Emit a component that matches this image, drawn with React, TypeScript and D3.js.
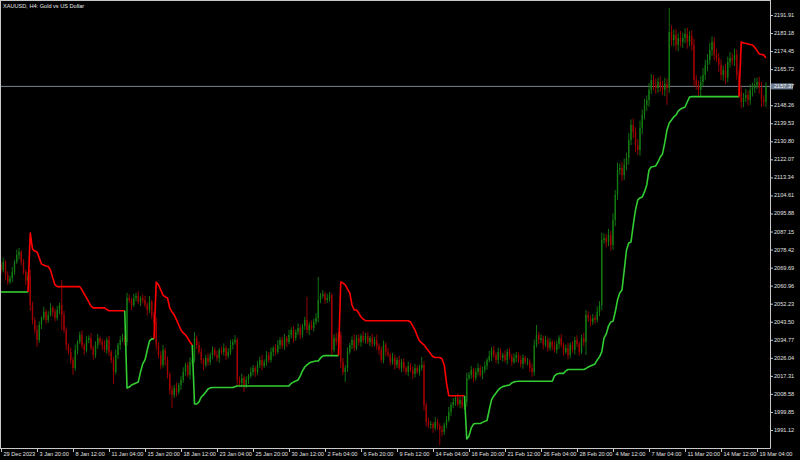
import React from 'react';
import * as d3 from 'd3';

const title = 'XAUUSD, H4:  Gold vs US Dollar';

// H4 closes, one per bar (opens follow the previous close)
const firstOpen = 2071.0;
const closes = [
  2068.5, 2072.4, 2066.1, 2062.7, 2064.6, 2067.6, 2072.4, 2075.8, 2077.3, 2072.4,
  2067.6, 2063.7, 2065.6, 2051.6, 2044.4, 2039.5, 2034.7, 2042.0, 2045.3, 2048.3,
  2044.4, 2046.8, 2050.2, 2048.3, 2045.3, 2049.2, 2051.6, 2046.8, 2039.5, 2032.3,
  2028.9, 2025.0, 2021.1, 2029.8, 2033.7, 2037.1, 2032.3, 2029.8, 2034.7, 2035.6,
  2030.8, 2027.4, 2032.3, 2035.6, 2033.7, 2032.3, 2029.8, 2034.7, 2028.9, 2025.0,
  2019.2, 2027.4, 2032.3, 2034.7, 2035.6, 2033.7, 2055.0, 2054.0, 2051.6, 2055.0,
  2056.0, 2053.1, 2055.0, 2054.0, 2051.6, 2049.2, 2053.1, 2046.8, 2043.4, 2032.3,
  2027.4, 2022.6, 2029.8, 2025.0, 2017.8, 2010.5, 2008.1, 2011.5, 2009.5, 2012.9,
  2015.3, 2019.2, 2022.6, 2017.8, 2024.0, 2025.0, 2035.6, 2032.3, 2028.9, 2025.0,
  2022.6, 2026.0, 2024.0, 2027.4, 2029.8, 2027.4, 2026.0, 2029.8, 2028.9, 2030.8,
  2026.9, 2028.9, 2032.3, 2033.7, 2034.7, 2015.3, 2013.9, 2016.3, 2012.9, 2015.3,
  2017.3, 2019.2, 2021.1, 2019.2, 2022.6, 2025.0, 2022.1, 2024.0, 2027.4, 2025.0,
  2028.9, 2030.8, 2028.9, 2032.3, 2034.7, 2031.8, 2035.6, 2033.7, 2037.1, 2039.5,
  2035.6, 2038.6, 2040.5, 2037.1, 2041.5, 2044.4, 2039.5, 2042.0, 2040.5, 2043.4,
  2045.3, 2054.0, 2056.0, 2056.9, 2054.0, 2055.0, 2056.4, 2029.8, 2035.6, 2033.7,
  2037.1, 2024.0, 2019.2, 2021.1, 2028.9, 2032.3, 2034.7, 2030.8, 2035.6, 2033.7,
  2036.6, 2034.7, 2036.6, 2033.7, 2035.6, 2032.8, 2034.7, 2031.8, 2029.8, 2025.0,
  2032.3, 2028.9, 2027.4, 2024.0, 2026.0, 2022.6, 2025.0, 2021.1, 2024.0, 2021.1,
  2019.2, 2022.1, 2020.2, 2018.2, 2021.1, 2019.2, 2021.1, 2022.6, 2003.2, 1995.0,
  1993.6, 1994.0, 1992.1, 1995.0, 1993.1, 1991.2, 1990.2, 1993.6, 1996.0, 1999.9,
  2003.2, 2004.7, 2006.6, 2003.7, 2005.6, 2002.7, 2004.7, 2016.3, 2017.8, 2020.2,
  2016.3, 2019.2, 2021.1, 2017.8, 2020.2, 2022.1, 2025.0, 2026.9, 2029.8, 2027.4,
  2025.0, 2028.9, 2026.0, 2027.4, 2025.0, 2028.9, 2026.9, 2024.0, 2026.0, 2027.4,
  2025.0, 2023.1, 2026.0, 2024.0, 2024.0, 2021.1, 2019.2, 2032.3, 2037.1, 2034.7,
  2035.6, 2032.3, 2034.7, 2030.8, 2033.7, 2031.8, 2029.8, 2032.8, 2035.6, 2032.3,
  2028.9, 2030.8, 2027.4, 2032.3, 2029.8, 2034.7, 2032.8, 2028.9, 2035.6, 2033.7,
  2046.8, 2045.3, 2043.4, 2045.3, 2044.4, 2048.3, 2051.6, 2083.1, 2084.0, 2082.1,
  2085.5, 2080.6, 2092.8, 2104.9, 2116.9, 2117.9, 2114.5, 2119.4, 2122.8, 2131.5,
  2138.7, 2135.3, 2129.0, 2126.6, 2137.3, 2143.6, 2148.4, 2150.8, 2155.7, 2160.5,
  2158.1, 2156.6, 2159.5, 2157.6, 2155.7, 2158.6, 2156.6, 2183.7, 2179.8, 2182.3,
  2177.4, 2180.8, 2178.9, 2180.8, 2182.7, 2178.9, 2181.8, 2177.4, 2160.5, 2158.1,
  2155.7, 2159.5, 2162.9, 2167.8, 2170.2, 2175.0, 2178.9, 2172.6, 2171.1, 2167.8,
  2162.9, 2165.3, 2161.5, 2169.2, 2171.1, 2170.2, 2172.6, 2162.9, 2154.7, 2149.9,
  2151.8, 2153.2, 2150.8, 2155.7, 2156.6, 2158.1, 2159.5, 2156.6, 2150.8, 2149.9,
  2157.37,
];

// wick lengths above / below the body, in dollars
const wickUp = [
  1.5, 2.1, 0.9, 1.8, 1.2, 2.4, 1.0, 2.6, 1.9, 0.8, 1.4, 1.1, 2.0, 3.2, 1.6, 1.3, 2.2, 1.7, 0.9, 2.5,
  1.2, 1.8, 2.3, 1.0, 1.5, 2.0, 1.1, 12.1, 1.9, 1.3, 0.8, 2.1, 1.4, 2.7, 1.0, 1.6, 2.2, 0.9, 1.8, 1.3,
  2.4, 1.1, 1.7, 2.0, 0.8, 1.5, 2.3, 1.2, 1.9, 0.9, 1.4, 2.6, 1.0, 1.8, 2.2, 1.3, 2.5, 1.7, 1.1, 2.0,
  1.4, 2.3, 0.9, 1.6, 2.1, 1.2, 2.8, 1.0, 1.5, 2.2, 1.3, 1.9, 2.4, 1.0, 1.7, 1.2, 2.0, 1.4, 2.5, 1.1,
  1.8, 2.2, 1.0, 1.6, 2.3, 1.4, 2.9, 1.2, 1.7, 2.0, 0.9, 1.5, 2.4, 1.1, 1.8, 1.3, 2.1, 1.0, 1.6, 2.2,
  1.2, 1.9, 2.5, 1.4, 2.3, 1.0, 1.7, 2.1, 1.3, 1.8, 0.9, 2.2, 1.5, 1.1, 2.0, 1.6, 2.4, 1.2, 1.9, 1.4,
  2.1, 1.0, 1.8, 2.3, 1.3, 1.6, 2.0, 1.1, 2.5, 1.4, 1.9, 1.2, 2.2, 1.7, 1.0, 1.5, 11.1, 1.3, 2.0, 1.6,
  2.3, 11.2, 1.4, 1.9, 1.1, 2.1, 1.5, 1.0, 1.8, 2.4, 1.2, 1.6, 2.0, 1.3, 2.2, 1.0, 1.7, 2.5, 1.4, 1.9,
  1.1, 2.3, 1.5, 1.8, 1.0, 2.0, 1.4, 2.6, 1.2, 1.7, 2.1, 1.3, 1.9, 1.0, 2.4, 1.6, 1.2, 2.0, 1.5, 1.8,
  1.1, 2.2, 1.4, 1.7, 2.0, 1.3, 1.6, 3.9, 1.8, 1.2, 2.1, 1.5, 1.0, 2.3, 1.6, 1.3, 2.0, 1.1, 1.8, 2.4,
  1.3, 1.9, 1.0, 2.2, 1.5, 1.7, 1.2, 2.6, 1.4, 2.0, 1.1, 1.8, 2.3, 1.3, 1.6, 2.1, 1.0, 2.5, 1.5, 1.9,
  1.2, 2.0, 1.6, 1.1, 2.3, 1.4, 1.8, 1.0, 2.1, 1.5, 1.3, 2.2, 1.7, 1.0, 1.9, 1.4, 2.0, 2.6, 4.8, 1.5,
  1.8, 1.2, 2.1, 1.4, 1.9, 1.0, 2.3, 1.6, 1.3, 2.0, 1.1, 1.7, 2.4, 1.2, 1.8, 1.5, 2.2, 1.0, 1.6, 2.5,
  2.4, 1.8, 1.3, 2.0, 1.5, 2.6, 1.9, 3.5, 2.2, 1.8, 2.9, 2.0, 3.1, 2.4, 3.6, 2.1, 2.8, 3.0, 2.5, 3.4,
  2.7, 3.2, 2.3, 2.9, 3.5, 2.6, 3.0, 2.2, 3.3, 2.8, 2.4, 3.1, 2.0, 2.7, 2.3, 3.0, 2.5, 11.6, 3.2, 2.6,
  2.9, 2.2, 3.4, 2.5, 2.8, 3.1, 2.3, 2.7, 3.0, 2.4, 2.1, 2.9, 3.3, 2.5, 2.8, 3.4, 2.6, 2.2, 3.0, 2.4,
  2.7, 2.1, 3.2, 2.5, 2.9, 2.3, 3.1, 2.6, 2.0, 2.8, 2.4, 3.0, 2.2, 2.7, 2.5, 3.3, 2.1, 2.6, 2.9, 2.3,
  2.0,
];
const wickDown = [
  1.8, 1.1, 2.3, 1.5, 0.9, 2.0, 1.4, 1.0, 2.2, 1.6, 1.2, 2.5, 1.0, 2.8, 2.1, 1.7, 3.4, 1.3, 2.0, 1.1,
  1.9, 1.4, 0.8, 2.2, 1.6, 1.2, 2.0, 7.3, 1.5, 2.4, 1.1, 1.8, 3.3, 1.3, 2.1, 0.9, 1.7, 2.3, 1.2, 1.6,
  1.0, 2.2, 1.4, 1.9, 1.3, 2.5, 1.1, 1.7, 2.0, 1.5, 5.8, 1.2, 1.8, 2.3, 1.0, 1.6, 1.9, 1.3, 2.4, 1.1,
  1.7, 1.0, 2.1, 1.5, 1.2, 2.6, 1.4, 1.9, 1.1, 2.3, 1.6, 2.0, 1.3, 2.7, 1.8, 2.2, 6.3, 1.5, 2.1, 1.2,
  2.4, 1.3, 1.8, 1.0, 2.2, 1.6, 1.4, 2.0, 1.1, 1.7, 2.5, 1.2, 1.9, 1.4, 2.1, 1.0, 1.6, 2.3, 1.3, 1.8,
  2.0, 1.1, 1.5, 2.2, 1.3, 2.6, 1.7, 1.2, 3.4, 1.6, 2.0, 1.0, 1.8, 2.4, 1.3, 1.5, 2.1, 1.1, 1.9, 1.4,
  1.2, 2.2, 1.6, 1.0, 2.0, 1.4, 1.8, 2.5, 1.1, 1.7, 2.3, 1.3, 1.5, 2.0, 1.2, 1.9, 1.6, 2.4, 1.0, 1.7,
  1.3, 2.1, 1.5, 1.1, 2.0, 1.4, 1.8, 2.2, 1.2, 1.6, 2.5, 3.0, 1.4, 4.8, 1.9, 1.2, 2.1, 1.5, 1.0, 1.8,
  2.3, 1.3, 1.7, 1.0, 2.0, 1.5, 1.2, 1.9, 2.4, 1.4, 1.6, 2.1, 1.1, 1.8, 1.3, 2.2, 1.5, 1.0, 2.0, 1.7,
  1.4, 1.9, 1.2, 2.3, 1.6, 1.0, 1.8, 1.3, 2.6, 2.2, 1.5, 1.9, 2.4, 1.2, 1.8, 7.3, 2.0, 1.4, 1.7, 1.1,
  2.1, 1.5, 1.8, 1.2, 2.0, 1.4, 1.6, 2.3, 1.1, 1.9, 2.2, 1.3, 1.7, 1.0, 2.1, 1.5, 1.8, 1.2, 2.4, 1.4,
  1.6, 2.0, 1.1, 1.8, 1.3, 2.2, 1.5, 1.9, 1.0, 2.1, 1.4, 1.7, 2.3, 1.2, 1.6, 2.0, 2.4, 1.8, 1.3, 2.0,
  1.5, 2.2, 1.1, 1.8, 1.4, 2.0, 1.2, 1.7, 2.4, 1.3, 1.9, 1.0, 2.1, 1.6, 1.3, 2.2, 1.5, 1.8, 1.1, 2.0,
  6.3, 1.7, 2.2, 1.4, 1.9, 1.2, 2.1, 2.5, 1.8, 2.6, 2.0, 2.9, 2.3, 3.1, 2.6, 2.2, 3.0, 2.4, 2.8, 3.2,
  2.5, 2.9, 3.4, 2.4, 2.7, 3.0, 2.2, 2.8, 3.3, 2.1, 2.6, 3.0, 2.3, 2.9, 2.5, 3.1, 8.2, 2.4, 2.8, 3.2,
  2.6, 3.0, 2.3, 2.9, 2.5, 3.3, 2.1, 2.7, 3.2, 2.4, 2.8, 3.0, 2.2, 2.6, 3.1, 2.3, 2.9, 2.5, 2.0, 3.4,
  2.4, 2.8, 3.1, 2.2, 2.7, 2.5, 3.0, 2.3, 2.9, 3.0, 2.6, 2.1, 2.8, 2.4, 3.2, 2.5, 2.0, 2.7, 3.4, 2.2,
  2.6,
];

// trailing stop level per bar, and where its side flips
const stopLevels = [
  2057.9, 2057.9, 2057.9, 2057.9, 2057.9, 2057.9, 2057.9, 2057.9, 2057.9, 2057.9,
  2057.9, 2057.9, 2057.9, 2086.4, 2078.7, 2077.7, 2077.3, 2074.4, 2071.4, 2071.0,
  2070.5, 2070.2, 2068.5, 2064.7, 2061.3, 2060.5, 2060.5, 2060.5, 2060.5, 2060.5,
  2060.5, 2060.5, 2060.5, 2060.5, 2060.5, 2060.5, 2058.9, 2056.9, 2055.0, 2053.1,
  2051.1, 2050.2, 2050.2, 2050.2, 2050.2, 2050.2, 2050.2, 2049.4, 2048.8, 2048.8,
  2048.8, 2048.8, 2048.8, 2048.8, 2048.8, 2048.8, 2011.4, 2011.9, 2012.9, 2013.4,
  2013.9, 2014.3, 2019.2, 2023.1, 2025.0, 2029.8, 2034.2, 2035.2, 2035.2, 2062.7,
  2061.3, 2058.9, 2056.4, 2055.5, 2055.0, 2050.2, 2048.2, 2046.8, 2044.4, 2041.9,
  2039.5, 2038.1, 2037.1, 2035.6, 2033.7, 2032.3, 2003.7, 2003.7, 2004.7, 2007.1,
  2008.1, 2009.5, 2011.0, 2011.5, 2011.7, 2011.7, 2011.7, 2011.7, 2011.7, 2011.7,
  2011.7, 2011.7, 2011.7, 2011.7, 2012.1, 2012.4, 2012.4, 2012.4, 2012.4, 2012.4,
  2012.4, 2012.4, 2012.4, 2012.4, 2012.4, 2012.4, 2012.4, 2012.4, 2012.4, 2012.4,
  2012.4, 2012.4, 2012.4, 2012.4, 2012.4, 2012.4, 2012.4, 2012.4, 2012.4, 2013.7,
  2014.3, 2014.8, 2015.3, 2017.3, 2019.7, 2021.6, 2022.6, 2023.5, 2024.0, 2024.3,
  2024.5, 2024.5, 2026.0, 2026.9, 2027.1, 2027.1, 2027.1, 2027.1, 2027.1, 2027.1,
  2027.1, 2062.7, 2062.2, 2061.3, 2059.3, 2057.4, 2051.6, 2049.2, 2049.2, 2047.7,
  2045.8, 2044.8, 2044.0, 2044.0, 2044.0, 2044.0, 2044.0, 2044.0, 2044.0, 2044.0,
  2044.0, 2044.0, 2044.0, 2044.0, 2044.0, 2044.0, 2044.0, 2044.0, 2044.0, 2044.0,
  2044.0, 2044.0, 2043.4, 2041.4, 2039.5, 2036.6, 2034.2, 2033.2, 2032.3, 2030.8,
  2029.4, 2027.9, 2026.6, 2026.2, 2026.2, 2026.2, 2025.5, 2022.6, 2013.9, 2007.7,
  2007.7, 2007.7, 2007.7, 2007.7, 2007.7, 2007.7, 2007.7, 1986.8, 1988.2, 1992.1,
  1994.0, 1994.3, 1994.3, 1994.3, 1994.8, 1995.3, 1995.7, 2000.8, 2005.7, 2007.6,
  2009.0, 2010.5, 2011.5, 2012.1, 2012.4, 2012.7, 2012.9, 2013.9, 2014.4, 2014.6,
  2014.7, 2014.7, 2014.7, 2014.7, 2014.7, 2014.7, 2014.7, 2014.7, 2014.7, 2014.7,
  2014.7, 2014.7, 2014.7, 2014.7, 2014.7, 2014.7, 2017.3, 2018.2, 2018.5, 2018.5,
  2018.5, 2019.7, 2020.4, 2020.4, 2020.4, 2020.4, 2020.4, 2020.4, 2020.4, 2020.4,
  2020.9, 2021.6, 2022.1, 2022.6, 2023.1, 2025.0, 2026.5, 2028.9, 2035.6, 2037.6,
  2041.4, 2043.4, 2043.7, 2048.2, 2054.0, 2057.4, 2058.9, 2068.5, 2078.2, 2081.6,
  2082.1, 2090.3, 2097.6, 2102.4, 2103.4, 2103.9, 2106.3, 2109.7, 2116.9, 2118.4,
  2118.6, 2118.9, 2120.8, 2123.2, 2124.7, 2130.0, 2136.3, 2139.7, 2141.1, 2142.6,
  2143.5, 2145.5, 2146.4, 2146.9, 2147.4, 2149.8, 2152.2, 2152.4, 2152.4, 2152.4,
  2152.4, 2152.4, 2152.4, 2152.4, 2152.4, 2152.4, 2152.4, 2152.4, 2152.4, 2152.4,
  2152.4, 2152.4, 2152.4, 2152.4, 2152.4, 2152.4, 2152.4, 2152.4, 2152.4, 2178.8,
  2178.4, 2178.2, 2177.9, 2177.6, 2177.4, 2176.2, 2174.7, 2173.0, 2172.8, 2172.6,
  2171.1,
];
const flipBars = [0, 13, 56, 69, 86, 151, 207, 329];
const flipSides = ['up', 'down', 'up', 'down', 'up', 'down', 'up', 'down'];

const lastPrice = 2157.37;
const priceTicks = [
  2191.91, 2183.18, 2174.45, 2165.72, 2148.26, 2139.53, 2130.80, 2122.07, 2113.34,
  2104.61, 2095.88, 2087.15, 2078.42, 2069.69, 2060.96, 2052.23, 2043.50, 2034.77,
  2026.04, 2017.31, 2008.58, 1999.85, 1991.12,
];
const timeLabels = [
  '29 Dec 2023', '3 Jan 20:00', '8 Jan 12:00', '11 Jan 04:00', '15 Jan 20:00', '18 Jan 12:00',
  '23 Jan 04:00', '25 Jan 20:00', '30 Jan 12:00', '2 Feb 04:00', '6 Feb 20:00', '9 Feb 12:00',
  '14 Feb 04:00', '16 Feb 20:00', '21 Feb 12:00', '26 Feb 04:00', '28 Feb 20:00', '4 Mar 12:00',
  '7 Mar 04:00', '11 Mar 20:00', '14 Mar 12:00', '19 Mar 04:00',
];
const timeLabelBars = [0, 16, 32, 48, 64, 80, 96, 112, 128, 144, 160, 176, 192, 208, 224, 240, 256, 272, 288, 304, 320, 336];

const W = 800;
const H = 460;
const plotRight = 770;
const plotBottom = 448;
const font = '"Liberation Sans", Arial, sans-serif';
const axisColor = '#c8c8c8';
const bullColor = '#137a13';
const bearColor = '#a30000';

export default function App() {
  const x = d3.scaleLinear().domain([0, 336]).range([1, 757]);
  const y = d3.scaleLinear().domain([1991.12, 2191.91]).range([430, 15]);

  const candles = closes.map((c, i) => {
    const o = i === 0 ? firstOpen : closes[i - 1];
    return { i, o, c, hi: Math.max(o, c) + wickUp[i], lo: Math.min(o, c) - wickDown[i] };
  });

  const line = d3.line<[number, number]>().x(d => x(d[0])).y(d => y(d[1]));
  const segments = flipBars.map((start, k) => {
    const end = k + 1 < flipBars.length ? flipBars[k + 1] - 1 : stopLevels.length - 1;
    const pts: [number, number][] = [];
    for (let i = Math.max(0, start - 1); i <= end; i++) pts.push([i, stopLevels[i]]);
    return { side: flipSides[k], d: line(pts) || '' };
  });

  const yLast = y(lastPrice);

  return (
    <div style={{ position: 'absolute', left: 0, top: 0, width: W, height: H }}>
      <svg width={W} height={H} style={{ display: 'block', background: '#000' }}>
        <defs>
          <clipPath id="plot">
            <rect x={1} y={1} width={plotRight - 1} height={plotBottom - 1} />
          </clipPath>
        </defs>
        <rect width={W} height={H} fill="#000" />

        <g clipPath="url(#plot)">
          <line x1={0} x2={plotRight} y1={yLast} y2={yLast} stroke="#7a8694" strokeWidth={1} />
          {candles.map(d => {
            const col = d.c >= d.o ? bullColor : bearColor;
            const cx = x(d.i);
            const top = y(Math.max(d.o, d.c));
            const bh = Math.max(1, y(Math.min(d.o, d.c)) - top);
            return (
              <g key={d.i}>
                <line x1={cx} x2={cx} y1={y(d.hi)} y2={y(d.lo)} stroke={col} strokeWidth={0.9} />
                <rect x={cx - 0.7} y={top} width={1.4} height={bh} fill={col} />
              </g>
            );
          })}
          {segments.map((s, k) => (
            <path key={k} d={s.d} fill="none" stroke={s.side === 'up' ? '#32cd32' : '#ff0000'} strokeWidth={1.6} strokeLinejoin="round" />
          ))}
        </g>

        {/* frame */}
        <line x1={0.5} x2={0.5} y1={0} y2={plotBottom} stroke={axisColor} />
        <line x1={0} x2={plotRight} y1={0.5} y2={0.5} stroke={axisColor} />
        <line x1={plotRight + 0.5} x2={plotRight + 0.5} y1={0} y2={plotBottom + 0.5} stroke={axisColor} />
        <line x1={0} x2={plotRight + 0.5} y1={plotBottom + 0.5} y2={plotBottom + 0.5} stroke={axisColor} />

        <text x={3} y={7.5} fill="#e8e8e8" fontFamily={font} fontSize={5.6}>{title}</text>

        {priceTicks.map(p => (
          <g key={p} transform={`translate(${plotRight},${y(p)})`}>
            <line x1={0} x2={3} y1={0.5} y2={0.5} stroke={axisColor} />
            <text x={4} y={2} fill="#e0e0e0" fontFamily={font} fontSize={5.6}>{p.toFixed(2)}</text>
          </g>
        ))}

        <g transform={`translate(${plotRight},${yLast})`}>
          <rect x={1} y={-3} width={22} height={6} fill="#6e7d90" />
          <text x={4} y={2} fill="#f4f4f4" fontFamily={font} fontSize={5.6}>{lastPrice.toFixed(2)}</text>
        </g>

        {timeLabelBars.map((b, k) => (
          <g key={b} transform={`translate(${Math.round(x(b)) + 0.5},${plotBottom})`}>
            <line x1={0} x2={0} y1={0} y2={4} stroke={axisColor} />
            <text x={2} y={8} fill="#e0e0e0" fontFamily={font} fontSize={5.6}>{timeLabels[k]}</text>
          </g>
        ))}
      </svg>
    </div>
  );
}
